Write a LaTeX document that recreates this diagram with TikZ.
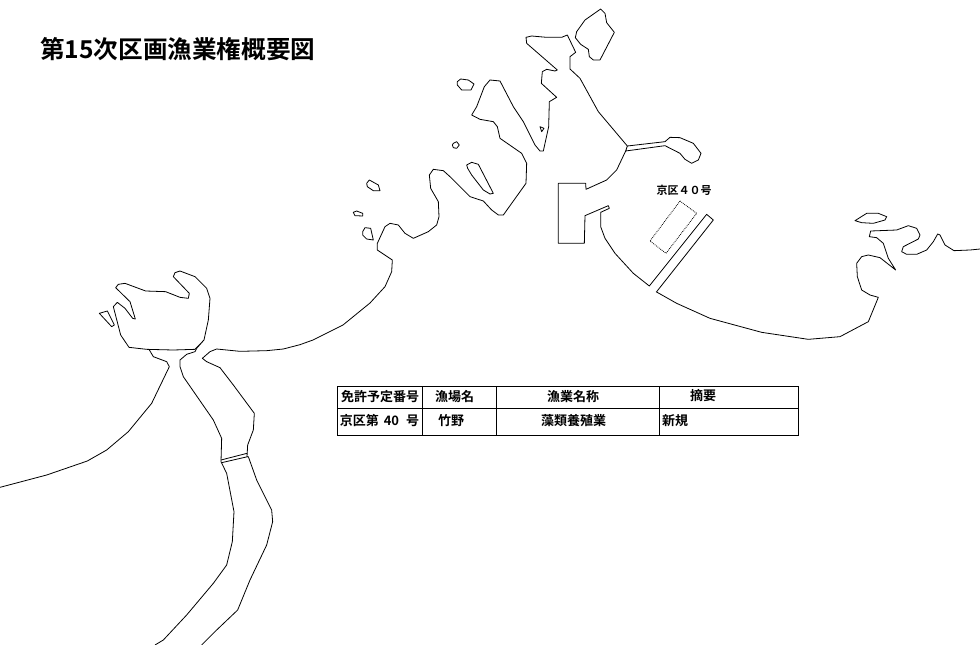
\documentclass[tikz,border=0pt]{standalone}
\usepackage{fontspec}
\newfontfamily\jpfont{Noto Sans CJK JP}[BoldFont={* Bold}]
\tikzset{
  coast/.style={black,line width=0.8pt,line join=round},
  rule/.style={black,line width=0.8pt},
  cell/.style={inner sep=0pt,font=\jpfont\bfseries\fontsize{13}{13}\selectfont},
  zoomtwo/.style={shift={(340,0)},scale=1/3},
  zoomthree/.style={shift={(0,260)},scale=1/3},
  zoomfour/.style={shift={(640,170)},scale=1/3}
}
\begin{document}
\begin{tikzpicture}[x=1pt,y=-1pt]
\useasboundingbox (0,0) rectangle (980,645);
% title
\node[anchor=west,inner sep=0pt,font=\jpfont\bfseries\fontsize{24.6}{24.6}\selectfont] (title) at (40,49) {第15次区画漁業権概要図};
% north coast
\begin{scope}[zoomtwo]
\draw [coast] (782,27) -- (795,40) -- (800,68) -- (823,97) -- (780,180) -- (760,180) -- (748,170) -- (745,148) -- (722,133) -- (706,113) -- (710,95) -- (735,60) -- cycle;
\draw [coast] (862,438) -- (775,335) -- (720,235) -- (690,207) -- (690,170) -- (707,157) -- (682,105) -- (665,112) -- (620,112) -- (575,108) -- (558,112) -- (560,130) -- (652,210) -- (645,213) -- (620,208) -- (607,215) -- (604,250) -- (650,292) -- (628,305) -- (626,380) -- (610,453) -- (600,453) -- (585,435) -- (550,365) -- (520,320) -- (480,243) -- (450,240) -- (433,260) -- (410,320) -- (395,345) -- (420,358) -- (460,365) -- (472,380) -- (480,415) -- (545,460) -- (560,490) -- (558,550) -- (490,645) -- (475,645) -- (455,630) -- (430,603) -- (390,590) -- (330,530) -- (310,512) -- (280,508) -- (268,525) -- (272,565) -- (295,605) -- (297,650) -- (290,675) -- (265,695) -- (220,715) -- (195,700) -- (175,675) -- (150,670) -- (135,680) -- (112,730) -- (112,750) -- (157,780) -- (155,815) -- (135,860) -- (90,909) -- (9,975) -- (-81,1020) -- (-120,1034);
\draw [coast] (352,245) -- (362,237) -- (385,240) -- (402,252) -- (393,270) -- (365,270) -- (352,255) -- cycle;
\draw [coast] (340,430) -- (350,425) -- (358,435) -- (350,445) -- (340,443) -- (337,435) -- cycle;
\draw [coast] (380,495) -- (395,487) -- (415,493) -- (460,580) -- (450,582) -- (430,570) -- (395,525) -- (383,505) -- cycle;
\draw [coast] (80,550) -- (88,540) -- (115,555) -- (120,572) -- (100,572) -- (82,560) -- cycle;
\draw [coast] (40,637) -- (50,633) -- (68,640) -- (68,648) -- (45,647) -- cycle;
\draw [coast] (68,695) -- (75,683) -- (92,685) -- (100,720) -- (80,717) -- (68,705) -- cycle;
\draw [coast] (600,380) -- (612,385) -- (605,395) -- cycle;
% harbour
\draw [coast] (857,453) -- (862,438) -- (975,425) -- (990,412) -- (1020,413) -- (1060,430) -- (1083,460) -- (1075,480) -- (1055,490) -- (1035,478) -- (1020,460) -- (975,437) -- (857,453) -- (830,510) -- (800,540) -- (738,568) -- (737,550) -- (655,550) -- (655,730) -- (733,730) -- (735,647) -- (805,617) -- (808,625) -- (782,637) -- (782,680) -- (795,715) -- (825,760) -- (880,820) -- (928,858) -- (1100,643) -- (1120,660) -- (950,875);
\end{scope}
% east coast
\begin{scope}[zoomfour]
\draw [coast] (48,365) -- (110,400) -- (210,445) -- (365,487) -- (505,508) -- (600,500) -- (685,455) -- (715,382) -- (690,375) -- (665,360) -- (652,320) -- (650,280) -- (665,260) -- (685,255) -- (720,263) -- (767,300) -- (745,265) -- (730,220) -- (710,203) -- (688,200) -- (692,183) -- (770,180) -- (805,167) -- (830,175) -- (840,195) -- (835,207) -- (790,230) -- (785,245) -- (800,253) -- (830,253) -- (860,240) -- (880,215) -- (893,192) -- (900,195) -- (915,225) -- (942,242) -- (990,240) -- (1020,237);
\draw [coast] (645,152) -- (680,130) -- (715,130) -- (740,140) -- (735,150) -- (700,160) -- (665,158) -- cycle;
\draw [coast,densely dotted] (120,93) -- (170,130) -- (78,250) -- (30,213) -- cycle;
\end{scope}
\node[cell,font=\jpfont\bfseries\fontsize{11}{11}\selectfont] (areaname) at (684,190) {京区４０号};
% south west coast
\begin{scope}[zoomthree]
\draw [coast] (900,254) -- (850,267) -- (800,272) -- (720,274) -- (650,267) -- (630,275) -- (607,295) -- (620,305) -- (660,323) -- (700,375) -- (763,460) -- (760,510) -- (743,555) -- (741,590) -- (745,590) -- (770,660) -- (815,750) -- (818,785) -- (800,855) -- (750,960) -- (713,1050) -- (650,1110) -- (605,1155);
\draw [coast] (465,1155) -- (490,1140) -- (560,1065) -- (640,970) -- (680,915) -- (697,845) -- (702,755) -- (680,640) -- (663,605) -- (665,535) -- (640,480) -- (550,350) -- (540,320) -- (540,300) -- (560,283) -- (585,275) -- (590,265);
\draw [coast] (663,600) -- (741,580);
\draw [coast] (665,608) -- (743,590);
\draw [coast] (590,265) -- (612,240) -- (625,180) -- (630,115) -- (620,85) -- (585,50) -- (540,33) -- (525,38) -- (520,50) -- (568,100) -- (565,115) -- (540,112) -- (497,95) -- (437,93) -- (375,70) -- (355,73) -- (347,83) -- (390,125) -- (406,177) -- (398,175) -- (375,145) -- (352,127) -- (340,140) -- (362,225) -- (387,262) -- (440,268) -- (520,270) -- (585,268) -- (612,240);
\draw [coast] (447,268) -- (460,290) -- (500,305) -- (508,320) -- (455,430) -- (385,515) -- (320,570) -- (262,603) -- (140,645) -- (0,682);
\draw [coast] (298,160) -- (322,153) -- (343,195) -- (335,200) -- cycle;
\end{scope}
% table
\draw [rule] (337,386) rectangle (798.5,435.5);
\draw [rule] (337,408) -- (798.5,408);
\foreach \x in {422.5,496,659} \draw [rule] (\x,386) -- (\x,435.5);
\node[cell] (headno) at (380,397) {免許予定番号};
\node[cell] (headplace) at (454.5,397) {漁場名};
\node[cell] (headname) at (573,397) {漁業名称};
\node[cell] (headnote) at (703,395.5) {摘要};
\node[cell] (rowno) at (379.5,421) {京区第\hspace{5pt}40\hspace{7pt}号};
\node[cell] (rowplace) at (451,421) {竹野};
\node[cell] (rowname) at (573.5,421) {藻類養殖業};
\node[cell] (rownote) at (675,421) {新規};
\end{tikzpicture}
\end{document}
